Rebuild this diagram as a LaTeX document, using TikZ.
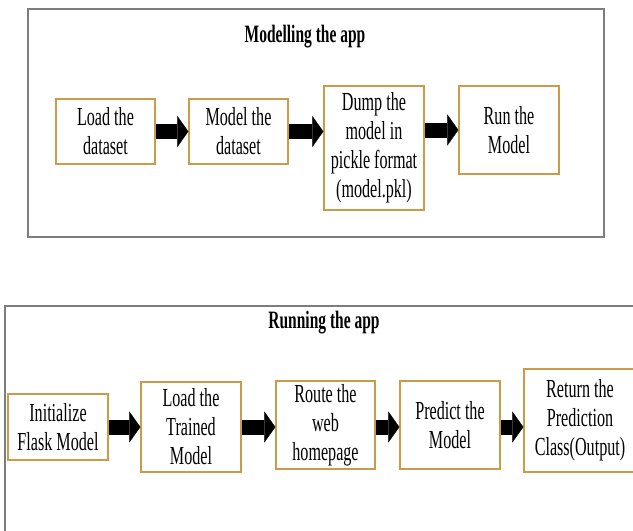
\documentclass[tikz,border=0pt]{standalone}
\usepackage{fontspec}
\setmainfont[FakeStretch=0.62]{Liberation Serif}
\usetikzlibrary{arrows.meta,calc}
\definecolor{boxedge}{RGB}{204,154,72}
\definecolor{frameline}{RGB}{125,125,125}
\begin{document}
\begin{tikzpicture}[x=1pt,y=-1pt,
  stepbox/.style={draw=boxedge, line width=1.3pt, fill=white, align=center,
    inner sep=2pt, font=\fontsize{26}{29}\selectfont},
  heading/.style={font=\fontsize{25}{28}\selectfont\bfseries},
  flow/.style={line width=15pt,
    -{Triangle[length=11pt 0 0,width=31pt 0 0,line width=0.2pt]}},
  frame/.style={draw=frameline, line width=1.8pt}]
\useasboundingbox (0,0) rectangle (633,531);
\fill[white] (0,0) rectangle (633,531);

% ---- Modelling the app ----
\draw[frame] (28,9) rectangle (604,237);
\node[heading] (t1) at (305,37) {Modelling the app};
\node[stepbox, minimum width=99pt, minimum height=65pt] (load) at (105.5,131.5) {Load the\\dataset};
\node[stepbox, minimum width=99pt, minimum height=65pt] (model) at (238.5,131.5) {Model the\\dataset};
\node[stepbox, minimum width=100pt, minimum height=124pt] (dump) at (374,148) {Dump the\\model in\\pickle format\\(model.pkl)};
\node[stepbox, minimum width=100pt, minimum height=88pt] (run) at (509,130) {Run the\\Model};
\draw[flow] (load.east) -- (model.west);
\draw[flow] (model.east) -- (model.east -| dump.west);
\draw[flow] (dump.east |- run.west) -- (run.west);

% ---- Running the app ----
\begin{scope}
\clip (0,0) rectangle (633,531);
\draw[frame] (5,306) rectangle (660,560);
\node[heading] (t2) at (324,323) {Running the app};
\node[stepbox, minimum width=100pt, minimum height=66pt] (init) at (58,427) {Initialize\\Flask Model};
\node[stepbox, minimum width=100pt, minimum height=90pt] (trained) at (191,427) {Load the\\Trained\\Model};
\node[stepbox, minimum width=99pt, minimum height=88pt] (route) at (325.5,425) {Route the\\web\\homepage};
\node[stepbox, minimum width=100pt, minimum height=88pt] (predict) at (450,425) {Predict the\\Model};
\node[stepbox, minimum width=112pt, minimum height=103pt] (ret) at (580,420.5) {Return the\\Prediction\\Class(Output)};
\end{scope}
\draw[flow] (init.east) -- (trained.west);
\draw[flow] (trained.east) -- (trained.east -| route.west);
\draw[flow] (route.east |- init.east) -- (init.east -| predict.west);
\draw[flow] (predict.east |- init.east) -- (init.east -| ret.west);
\end{tikzpicture}
\end{document}
